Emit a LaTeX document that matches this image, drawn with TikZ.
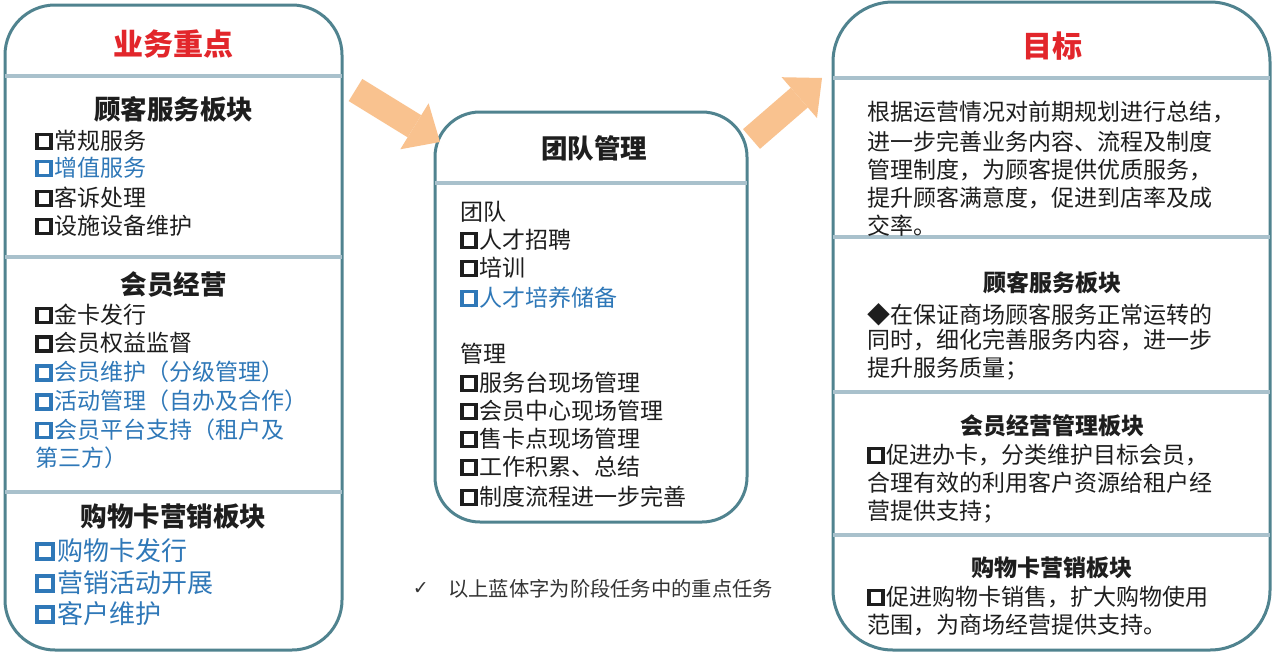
\documentclass[tikz,border=0pt]{standalone}
\usepackage{fontspec}
\setmainfont{Noto Sans CJK SC}
\newfontfamily\symfont{DejaVu Sans}
\usetikzlibrary{arrows.meta,positioning}

\definecolor{panelline}{HTML}{50838F}
\definecolor{divline}{HTML}{A9C1CC}
\definecolor{titlered}{HTML}{E2262B}
\definecolor{itemblue}{HTML}{2F78B8}
\definecolor{arroworange}{HTML}{F9C28F}
\definecolor{textdark}{HTML}{1E1E1E}
\definecolor{notegray}{HTML}{333333}

% bold check box in front of a list entry
\newcommand{\chk}{\raisebox{0.12em}{\setlength{\fboxrule}{0.16em}\setlength{\fboxsep}{0pt}\fbox{\rule{0pt}{0.44em}\hspace{0.44em}}}\hspace{0.1em}}

\tikzset{
  panel/.style={draw=panelline, line width=3pt, rounded corners=#1, inner sep=0pt},
  panel/.default=50pt,
  divider/.style={draw=divline, line width=4.5pt, shorten <=1.5pt, shorten >=1.5pt},
  title/.style={inner sep=0pt, text=titlered, font=\bfseries\fontsize{30}{34}\selectfont,
                text height=24pt, text depth=2.4pt},
  head/.style={inner sep=0pt, text=textdark, font=\bfseries\fontsize{26.5}{30}\selectfont,
               text height=21.2pt, text depth=2.1pt},
  rhead/.style={inner sep=0pt, text=textdark, font=\bfseries\fontsize{23}{28}\selectfont,
                text height=18.4pt, text depth=1.8pt},
  item/.style={anchor=west, inner sep=0pt, font=\fontsize{23}{28}\selectfont,
               text height=18.4pt, text depth=1.8pt},
  bigitem/.style={item, font=\fontsize{26}{30}\selectfont, text height=20.8pt, text depth=2.1pt},
  note/.style={anchor=west, inner sep=0pt, text=notegray, font=\fontsize{20.3}{24}\selectfont,
               text height=16.2pt, text depth=1.6pt},
  bigarrow/.style={draw=arroworange, line width=26pt,
                   -{Triangle[length=30pt, width=54pt, line width=0pt 0, fill=arroworange]}}
}

\begin{document}
\begin{tikzpicture}[x=1pt, y=-1pt]
  \path[use as bounding box, fill=white] (0,0) rectangle (1280,656);

  % left panel
  \node[panel, minimum width=337pt, minimum height=645pt] (lpanel) at (173.5,327.5) {};
  \foreach \yy in {76,257,492}
    \draw[divider] (lpanel.west |- 0,\yy) -- (lpanel.east |- 0,\yy);
  \node[title] (ltitle) at (173.5,45) {业务重点};
  \node[head] (lhead1) at (173.5,110) {顾客服务板块};
  \node[head] (lhead2) at (173.5,285) {会员经营};
  \node[head] (lhead3) at (173.5,517) {购物卡营销板块};
  \foreach \yy/\col/\txt [count=\i] in {141/textdark/\chk 常规服务,
      168/itemblue/\chk 增值服务, 198/textdark/\chk 客诉处理,
      226/textdark/\chk 设施设备维护, 315/textdark/\chk 金卡发行,
      343.5/textdark/\chk 会员权益监督, 372.5/itemblue/\chk 会员维护（分级管理）,
      401.5/itemblue/\chk 活动管理（自办及合作）,
      430/itemblue/\chk 会员平台支持（租户及, 458.5/itemblue/第三方）}
    \node[item, text=\col] (litem\i) at (35,\yy) {\txt};
  \foreach \yy/\txt [count=\i] in {551/购物卡发行, 583/营销活动开展, 614/客户维护}
    \node[bigitem, text=itemblue] (lcard\i) at (35,\yy) {\chk \txt};

  % middle panel
  \node[panel=45pt, minimum width=312pt, minimum height=410pt] (mpanel) at (591,317) {};
  \draw[divider] (mpanel.west |- 0,183) -- (mpanel.east |- 0,183);
  \node[head] (mtitle) at (594,149) {团队管理};
  \foreach \yy/\col/\txt [count=\i] in {212/textdark/团队,
      240/textdark/\chk 人才招聘, 268/textdark/\chk 培训,
      298/itemblue/\chk 人才培养储备, 354/textdark/管理,
      383/textdark/\chk 服务台现场管理, 411/textdark/\chk 会员中心现场管理,
      439/textdark/\chk 售卡点现场管理, 467/textdark/\chk 工作积累、总结,
      497/textdark/\chk 制度流程进一步完善}
    \node[item, text=\col] (mitem\i) at (460,\yy) {\txt};

  % note under the middle panel
  \node[note] (notetext) at (448,589) {以上蓝体字为阶段任务中的重点任务};
  \node[inner sep=0pt, text=notegray, font=\symfont\fontsize{19}{22}\selectfont,
        left=19pt of notetext] (tick) {✓};

  % right panel
  \node[panel=60pt, minimum width=437pt, minimum height=648pt] (rpanel) at (1051.5,326) {};
  \foreach \yy in {78,237,392,535}
    \draw[divider] (rpanel.west |- 0,\yy) -- (rpanel.east |- 0,\yy);
  \node[title] (rtitle) at (1052,47) {目标};
  \node[rhead] (rhead1) at (1052,283) {顾客服务板块};
  \node[rhead] (rhead2) at (1052,426) {会员经营管理板块};
  \node[rhead] (rhead3) at (1052,568) {购物卡营销板块};
  \foreach \yy/\txt [count=\i] in {112/根据运营情况对前期规划进行总结，,
      142/进一步完善业务内容、流程及制度, 170/管理制度，为顾客提供优质服务，,
      198/提升顾客满意度，促进到店率及成, 226/交率。,
      315/◆在保证商场顾客服务正常运转的, 340/同时，细化完善服务内容，进一步,
      368/提升服务质量；, 455/\chk 促进办卡，分类维护目标会员，,
      483/合理有效的利用客户资源给租户经, 511/营提供支持；,
      597/\chk 促进购物卡销售，扩大购物使用, 625/范围，为商场经营提供支持。}
    \node[item, text=textdark] (ritem\i) at (867,\yy) {\txt};

  % arrows between the panels
  \coordinate (a1s) at (355.5,90);
  \coordinate (a1e) at (440,142);
  \coordinate (a2s) at (751.5,139);
  \coordinate (a2e) at (822,78);
  \draw[bigarrow] (a1s) -- (a1e);
  \draw[bigarrow] (a2s) -- (a2e);
\end{tikzpicture}
\end{document}
